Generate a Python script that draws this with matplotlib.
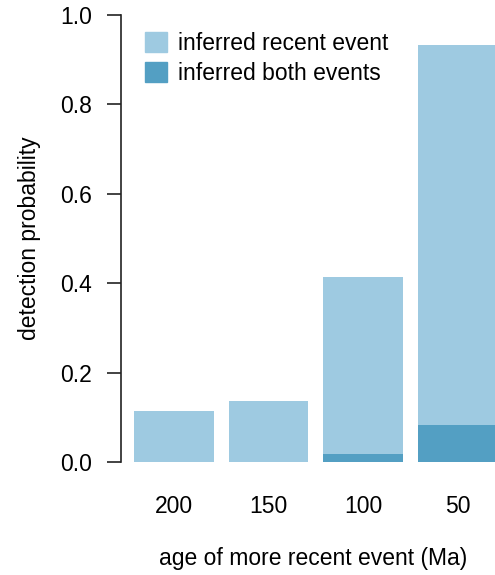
import numpy as np
import matplotlib
matplotlib.use('Agg')
import matplotlib.pyplot as plt
from matplotlib.patches import Patch

plt.rcParams['font.family'] = ['Liberation Sans', 'DejaVu Sans']

# data
ages = ['200', '150', '100', '50']
recent = [0.114, 0.136, 0.414, 0.933]
both = [0.0, 0.0, 0.018, 0.083]
labels = ['inferred recent event', 'inferred both events']

light = '#9ecae1'
dark = '#539fc3'
fs = 16.5

W, H = 495, 575
fig = plt.figure(figsize=(W / 100, H / 100), dpi=100)
# y axis spine at x=121px, y=0 at 462px, y=1 at 15px
ax = fig.add_axes([121 / W, (H - 462) / H, (W - 121) / W, 447 / H])

x = np.arange(len(ages))
ax.bar(x, recent, width=0.84, color=light)
ax.bar(x, both, width=0.84, color=dark)

ax.set_xlim(-(174 - 121) / 94.5, (W - 174) / 94.5)
ax.set_ylim(0, 1)

for s in ['top', 'right', 'bottom']:
    ax.spines[s].set_visible(False)
ax.spines['left'].set_linewidth(1.2)
ax.spines['left'].set_color('#222222')

ax.set_yticks([0, 0.2, 0.4, 0.6, 0.8, 1.0])
ax.set_yticklabels(['0.0', '0.2', '0.4', '0.6', '0.8', '1.0'])
ax.tick_params(axis='y', length=10, width=1.2, color='#222222', labelsize=fs, pad=11)
ax.set_xticks(x)
ax.set_xticklabels(ages)
ax.tick_params(axis='x', length=0, labelsize=fs, pad=24)

fig.text(30 / W, 1 - 238 / H, 'detection probability', rotation=90,
         ha='center', va='center', fontsize=fs)
fig.text(313 / W, 1 - 558 / H, 'age of more recent event (Ma)',
         ha='center', va='center', fontsize=fs)

handles = [Patch(color=light), Patch(color=dark)]
leg = ax.legend(handles, labels, loc='upper left',
                bbox_to_anchor=((145 - 121) / 374, (462 - 32) / 447),
                frameon=False, fontsize=fs, handlelength=0.95, handleheight=0.95,
                handletextpad=0.5, labelspacing=0.3, borderaxespad=0, borderpad=0)

fig.savefig('out.png', dpi=100)
